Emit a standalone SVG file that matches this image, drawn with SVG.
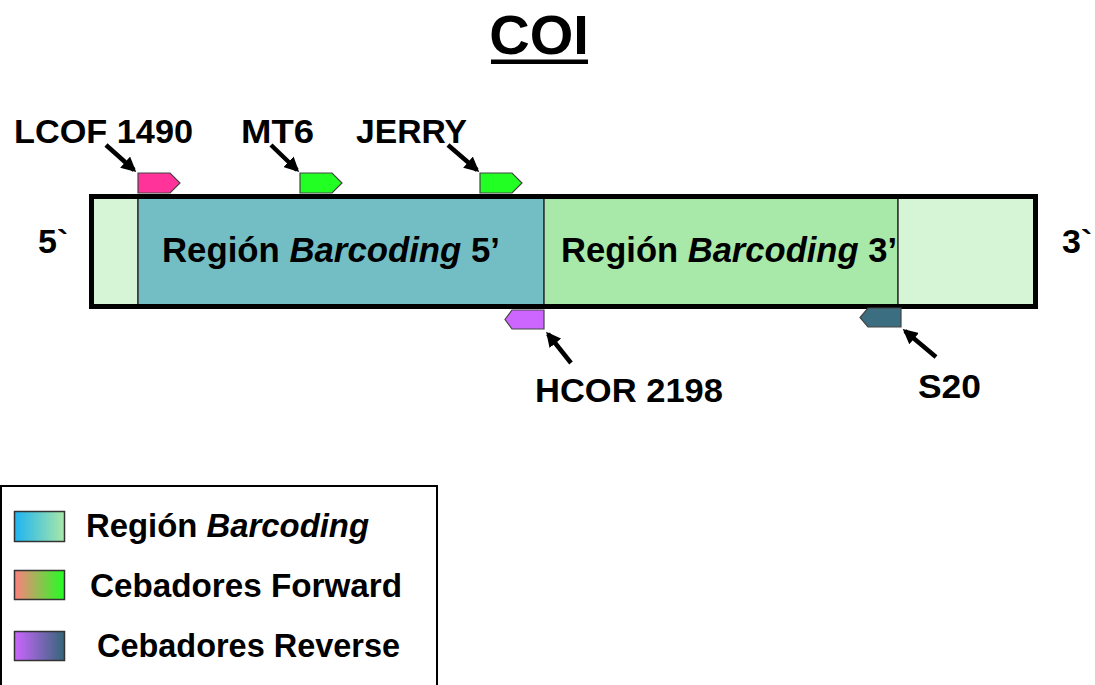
<svg xmlns="http://www.w3.org/2000/svg" width="1095" height="685" viewBox="0 0 1095 685">
<style>
text{font-family:"Liberation Sans",Arial,sans-serif;font-weight:bold;fill:#000}
.lbl{font-size:34px}
.reg{font-size:35px}
.leg{font-size:33px}
.region{stroke:#333;stroke-width:1.5}
.primer{stroke:#444;stroke-width:1.2}
.conn{stroke:#000;stroke-width:4.5;fill:none;marker-end:url(#ah)}
</style>
<defs>
<marker id="ah" viewBox="0 0 10 10" refX="8" refY="5" markerWidth="3.3" markerHeight="3.3" orient="auto" markerUnits="strokeWidth">
<path d="M0,0 L10,5 L0,10 z" fill="#000"/>
</marker>
<linearGradient id="g1" x1="0" x2="1" y1="0" y2="0"><stop offset="0" stop-color="#1EB4F2"/><stop offset="1" stop-color="#A8E8A8"/></linearGradient>
<linearGradient id="g2" x1="0" x2="1" y1="0" y2="0"><stop offset="0" stop-color="#FF7F7F"/><stop offset="1" stop-color="#22FF22"/></linearGradient>
<linearGradient id="g3" x1="0" x2="1" y1="0" y2="0"><stop offset="0" stop-color="#CC66FF"/><stop offset="1" stop-color="#336677"/></linearGradient>
</defs>
<rect width="1095" height="685" fill="#fff"/>

<g id="title">
<text x="539" y="54" text-anchor="middle" style="font-size:56px">COI</text>
<rect x="491" y="59.5" width="97" height="4.5" fill="#000"/>
</g>

<g id="coi-gene">
<rect class="region" x="91.5" y="196.5" width="46.5" height="110" fill="#D6F5D6"/>
<rect class="region" x="138" y="196.5" width="406" height="110" fill="#72BEC4"/>
<rect class="region" x="544" y="196.5" width="354" height="110" fill="#A8E8A8"/>
<rect class="region" x="898" y="196.5" width="137.5" height="110" fill="#D6F5D6"/>
<rect x="91.5" y="196.5" width="944" height="110" fill="none" stroke="#000" stroke-width="5"/>
<text class="reg" x="162" y="262" textLength="338" lengthAdjust="spacingAndGlyphs">Región <tspan font-style="italic">Barcoding</tspan> 5’</text>
<text class="reg" x="561" y="262" textLength="336" lengthAdjust="spacingAndGlyphs">Región <tspan font-style="italic">Barcoding</tspan> 3’</text>
</g>

<g id="end5"><text class="lbl" x="38" y="253">5`</text></g>
<g id="end3"><text class="lbl" x="1062" y="253">3`</text></g>

<g id="LCOF1490">
<polygon class="primer" points="138,173 170,173 180,183 170,193 138,193" fill="#FF3399"/>
<text class="lbl" x="14" y="143" textLength="179" lengthAdjust="spacingAndGlyphs">LCOF 1490</text>
</g>
<g id="MT6">
<polygon class="primer" points="300,173 332,173 342,183 332,193 300,193" fill="#22FF22"/>
<text class="lbl" x="241" y="143" textLength="73" lengthAdjust="spacingAndGlyphs">MT6</text>
</g>
<g id="JERRY">
<polygon class="primer" points="480,173 512,173 522,183 512,193 480,193" fill="#22FF22"/>
<text class="lbl" x="356" y="143" textLength="111" lengthAdjust="spacingAndGlyphs">JERRY</text>
</g>
<g id="HCOR2198">
<polygon class="primer" points="544,310 512,310 505,319.5 512,329 544,329" fill="#CC66FF"/>
<text class="lbl" x="535" y="402" textLength="188" lengthAdjust="spacingAndGlyphs">HCOR 2198</text>
</g>
<g id="S20">
<polygon class="primer" points="901,308 868,308 860,317.5 868,327 901,327" fill="#3A6E80"/>
<text class="lbl" x="918" y="398" textLength="63" lengthAdjust="spacingAndGlyphs">S20</text>
</g>

<g id="connectors">
<line class="conn" x1="106" y1="145" x2="134" y2="170"/>
<line class="conn" x1="271" y1="145" x2="297" y2="170"/>
<line class="conn" x1="448" y1="145" x2="477" y2="170"/>
<line class="conn" x1="571" y1="363" x2="548" y2="334"/>
<line class="conn" x1="936" y1="357" x2="905" y2="331"/>
</g>

<g id="legend">
<rect x="1" y="486" width="436" height="205" fill="#fff" stroke="#000" stroke-width="2"/>
<rect x="14.5" y="511.5" width="50" height="30" fill="url(#g1)" stroke="#333" stroke-width="1.5"/>
<rect x="14.5" y="570.5" width="50" height="29" fill="url(#g2)" stroke="#333" stroke-width="1.5"/>
<rect x="14.5" y="631.5" width="50" height="29" fill="url(#g3)" stroke="#333" stroke-width="1.5"/>
<text class="leg" x="86" y="537" textLength="283" lengthAdjust="spacingAndGlyphs">Región <tspan font-style="italic">Barcoding</tspan></text>
<text class="leg" x="90" y="597" textLength="312" lengthAdjust="spacingAndGlyphs">Cebadores Forward</text>
<text class="leg" x="97" y="657" textLength="303" lengthAdjust="spacingAndGlyphs">Cebadores Reverse</text>
</g>
</svg>
